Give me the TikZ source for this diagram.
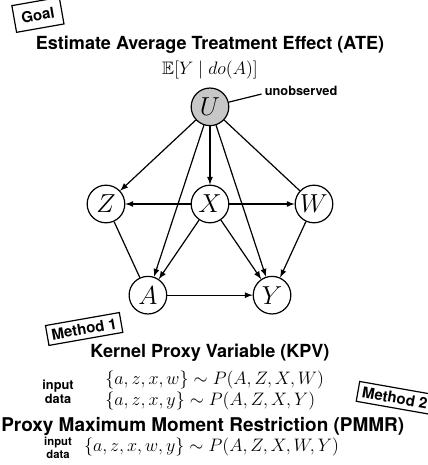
\documentclass[tikz,border=0pt]{standalone}
\usepackage{fontspec}
\setsansfont{TeX Gyre Heros}
\usepackage{amsmath}
\usepackage{amssymb}
\usepackage{tikz}
\usetikzlibrary{positioning}
\usetikzlibrary{arrows}
\tikzset{>=latex}
\tikzstyle{varnode}=[black,draw=black,line width=0.8pt,shape=circle,fill=white,minimum size=25pt,inner sep=0pt,font=\LARGE]
\tikzstyle{hidnode}=[varnode,fill=black!22]
\tikzstyle{taro}=[->,line width=0.8pt,color=black]
\tikzstyle{tline}=[line width=0.8pt,color=black]
\tikzstyle{tagbox}=[black,draw=black,line width=0.8pt,shape=rectangle,fill=white,inner sep=3pt,font=\sffamily\bfseries]
\tikzstyle{headline}=[font=\sffamily\bfseries\large]
\tikzstyle{smalllabel}=[font=\sffamily\bfseries\fontsize{8.5}{9.5}\selectfont,align=center,inner sep=1pt]
\tikzstyle{mathline}=[font=\large,anchor=west,inner sep=0pt]

\begin{document}
\begin{tikzpicture}

	\useasboundingbox (-4.906, -6.098) rectangle (5.093, 4.766);

	% Goal
	\node[tagbox, rotate = 10, minimum width = 32pt, minimum height = 18pt] (goal) at (-4.02, 4.42) {Goal};
	\node[headline] (atelabel) at (0, 3.71) {Estimate Average Treatment Effect (ATE)};
	\node[font = \large] (ate) at (0, 3.13) {$\mathbb{E}[Y \mid do(A)]$};

	% Graph
	\node[hidnode] (U) at (0, 2.27) {$U$};
	\node[varnode] (Z) at (-2.43, 0) {$Z$};
	\node[varnode] (X) at (0, 0) {$X$};
	\node[varnode] (W) at (2.43, 0) {$W$};
	\node[varnode] (A) at (-1.45, -2.13) {$A$};
	\node[varnode] (Y) at (1.45, -2.13) {$Y$};
	\draw[taro] (U) -- (Z);
	\draw[taro] (U) -- (X);
	\draw[taro] (U) -- (A);
	\draw[taro] (U) -- (Y);
	\draw[tline] (U) -- (W);
	\draw[taro] (X) -- (Z);
	\draw[taro] (X) -- (W);
	\draw[taro] (X) -- (A);
	\draw[taro] (X) -- (Y);
	\draw[tline] (Z) -- (A);
	\draw[taro] (W) -- (Y);
	\draw[taro] (A) -- (Y);
	\node[smalllabel, anchor = west] (unobs) at (1.24, 2.64) {unobserved};
	\draw[tline] (U) -- ([xshift = -1pt, yshift = -2pt]unobs.west);

	% Method 1
	\node[tagbox, rotate = 10] (method1) at (-2.94, -2.92) {Method 1};
	\node[headline] (kpvlabel) at (0, -3.48) {Kernel Proxy Variable (KPV)};
	\node[smalllabel] (kpvinput) at (-3.55, -4.38) {input\\data};
	\node[mathline] (kpvdata1) at (-2.45, -4.12) {$\{a, z, x, w\} \sim P(A, Z, X, W)$};
	\node[mathline] (kpvdata2) at (-2.45, -4.60) {$\{a, z, x, y\} \sim P(A, Z, X, Y)$};

	% Method 2
	\node[tagbox, rotate = -10] (method2) at (4.32, -4.53) {Method 2};
	\node[headline, font = \sffamily\bfseries\fontsize{12.6}{15}\selectfont] (pmmrlabel) at (-0.17, -5.20) {Proxy Maximum Moment Restriction (PMMR)};
	\node[smalllabel, font = \sffamily\bfseries\fontsize{7.5}{8.5}\selectfont] (pmmrinput) at (-3.55, -5.70) {input\\data};
	\node[mathline] (pmmrdata) at (-2.95, -5.68) {$\{a, z, x, w, y\} \sim P(A, Z, X, W, Y)$};

\end{tikzpicture}
\end{document}
